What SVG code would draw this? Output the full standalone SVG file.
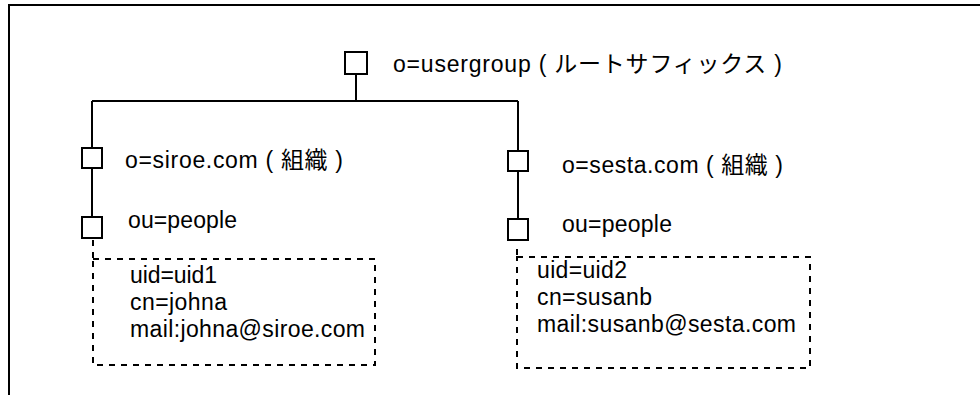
<svg xmlns="http://www.w3.org/2000/svg" width="980" height="395" viewBox="0 0 980 395">
<style>
.t{font-family:"Liberation Sans","Noto Sans CJK JP",sans-serif;font-size:23px;fill:#000}
.box{fill:#fff;stroke:#000;stroke-width:2}
.ln{stroke:#000;stroke-width:2;fill:none}
.dash{stroke:#000;stroke-width:2;fill:none;stroke-dasharray:6 6}
</style>
<rect width="980" height="395" fill="#fff"/>
<g id="frame">
<path class="ln" d="M9,395 V5 H980"/>
</g>
<g id="connectors">
<path class="ln" d="M356,74 V101"/>
<path class="ln" d="M92,101 H518"/>
<path class="ln" d="M92,101 V148 M92,168 V217"/>
<path class="ln" d="M518,101 V151 M518,171 V219"/>
<path class="dash" d="M93,240 V259"/>
<path class="dash" d="M517,249 V257"/>
</g>
<g id="root">
<rect class="box" x="345" y="52" width="22" height="22"/>
<text class="t" x="393" y="72" textLength="389" lengthAdjust="spacing">o=usergroup ( ルートサフィックス )</text>
</g>
<g id="siroe">
<rect class="box" x="82" y="148" width="20" height="20"/>
<text class="t" x="125" y="168" textLength="218" lengthAdjust="spacing">o=siroe.com ( 組織 )</text>
</g>
<g id="people1">
<rect class="box" x="82" y="217" width="20" height="21"/>
<text class="t" x="128" y="228" textLength="109" lengthAdjust="spacing">ou=people</text>
</g>
<g id="sesta">
<rect class="box" x="508" y="151" width="20" height="20"/>
<text class="t" x="562" y="173" textLength="221" lengthAdjust="spacing">o=sesta.com ( 組織 )</text>
</g>
<g id="people2">
<rect class="box" x="508" y="219" width="20" height="21"/>
<text class="t" x="562" y="232" textLength="110" lengthAdjust="spacing">ou=people</text>
</g>
<g id="entry1">
<rect class="dash" x="93" y="259" width="282" height="106"/>
<text class="t" x="130" y="283" textLength="87" lengthAdjust="spacing">uid=uid1</text>
<text class="t" x="130" y="310" textLength="97" lengthAdjust="spacing">cn=johna</text>
<text class="t" x="130" y="337" textLength="235" lengthAdjust="spacing">mail:johna@siroe.com</text>
</g>
<g id="entry2">
<rect class="dash" x="517" y="257" width="293" height="111"/>
<text class="t" x="537" y="278" textLength="90" lengthAdjust="spacing">uid=uid2</text>
<text class="t" x="537" y="305" textLength="115" lengthAdjust="spacing">cn=susanb</text>
<text class="t" x="537" y="332" textLength="259" lengthAdjust="spacing">mail:susanb@sesta.com</text>
</g>
</svg>
